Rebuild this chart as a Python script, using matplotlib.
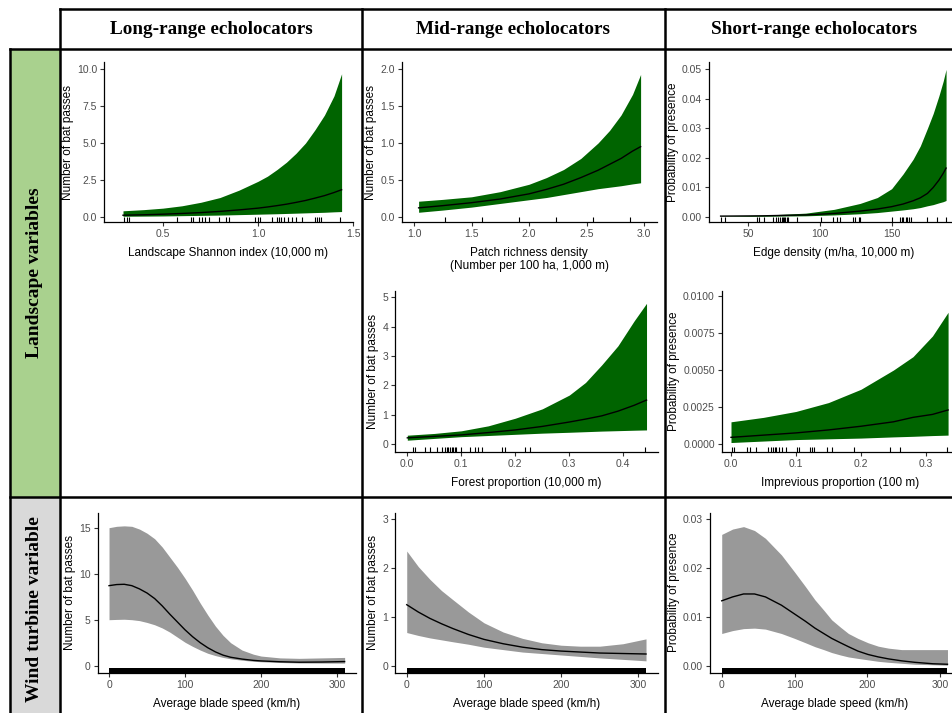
import matplotlib.pyplot as plt
from matplotlib.patches import Rectangle
from matplotlib.transforms import blended_transform_factory

# ---- data ----

# long-range, landscape Shannon index
shan_x = [0.29, 0.4, 0.5, 0.6, 0.7, 0.8, 0.9, 1.0, 1.05, 1.1, 1.15, 1.2, 1.25, 1.3, 1.35, 1.4, 1.44]
shan_fit = [0.10, 0.13, 0.17, 0.22, 0.28, 0.36, 0.46, 0.58, 0.66, 0.75, 0.85, 0.97, 1.1, 1.26, 1.43, 1.64, 1.83]
shan_hi = [0.40, 0.48, 0.58, 0.74, 0.98, 1.3, 1.8, 2.4, 2.75, 3.2, 3.7, 4.3, 5.0, 5.9, 6.9, 8.2, 9.7]
shan_lo = [0.03, 0.04, 0.05, 0.07, 0.09, 0.11, 0.14, 0.17, 0.185, 0.20, 0.22, 0.24, 0.26, 0.28, 0.30, 0.33, 0.35]
shan_rug = [0.295, 0.309, 0.32, 0.572, 0.646, 0.66, 0.689, 0.707, 0.72, 0.74, 0.795, 0.83, 0.85,
            0.984, 0.998, 1.01, 1.072, 1.10, 1.11, 1.12, 1.137, 1.16, 1.18, 1.20, 1.23,
            1.30, 1.31, 1.32, 1.33, 1.43]

# mid-range, patch richness density
patch_x = [1.04, 1.25, 1.5, 1.75, 2.0, 2.15, 2.3, 2.45, 2.6, 2.7, 2.8, 2.9, 2.97]
patch_fit = [0.12, 0.15, 0.19, 0.24, 0.31, 0.37, 0.44, 0.53, 0.63, 0.71, 0.79, 0.89, 0.95]
patch_hi = [0.21, 0.235, 0.27, 0.34, 0.44, 0.53, 0.64, 0.79, 1.0, 1.17, 1.38, 1.66, 1.93]
patch_lo = [0.06, 0.09, 0.13, 0.18, 0.23, 0.26, 0.30, 0.34, 0.38, 0.40, 0.42, 0.445, 0.46]
patch_rug = [1.27, 1.594, 1.913, 2.235, 2.557, 2.878]

# short-range, edge density
edge_x = [30.7, 60, 90, 110, 128, 140, 150, 158, 165, 170, 175, 179, 183, 186, 188]
edge_fit = [0.0002, 0.0003, 0.0006, 0.0011, 0.0019, 0.0026, 0.0034, 0.0043, 0.0054, 0.0064, 0.0079,
            0.0099, 0.0124, 0.0147, 0.0165]
edge_hi = [0.0002, 0.0005, 0.0012, 0.0025, 0.0045, 0.0065, 0.0095, 0.0145, 0.0195, 0.0240, 0.0300,
           0.0350, 0.0410, 0.0460, 0.0500]
edge_lo = [0.0001, 0.00015, 0.0003, 0.0006, 0.001, 0.0014, 0.0019, 0.0023, 0.0027, 0.0031, 0.0037,
           0.0041, 0.0047, 0.0051, 0.0055]
edge_rug = [30.9, 33.7, 55.8, 57.7, 61, 67.5, 69.2, 70.8, 72, 73.3, 74, 74.7, 75.6, 76.8, 78, 83.8,
            100.8, 109.3, 112, 114, 123.3, 124.5, 127, 128, 150, 155.8, 157, 158, 160, 161,
            162.4, 163.6, 174.5, 181.5, 188]

# mid-range, forest proportion
forest_x = [0.0, 0.05, 0.1, 0.15, 0.2, 0.25, 0.3, 0.33, 0.36, 0.39, 0.42, 0.443]
forest_fit = [0.21, 0.26, 0.31, 0.39, 0.48, 0.6, 0.75, 0.85, 0.96, 1.12, 1.32, 1.5]
forest_hi = [0.30, 0.36, 0.45, 0.62, 0.88, 1.2, 1.67, 2.1, 2.7, 3.35, 4.2, 4.8]
forest_lo = [0.13, 0.19, 0.25, 0.29, 0.33, 0.37, 0.40, 0.42, 0.44, 0.455, 0.47, 0.48]
forest_rug = [0.011, 0.014, 0.033, 0.042, 0.055, 0.064, 0.069, 0.073, 0.076, 0.079, 0.082, 0.085,
              0.088, 0.091, 0.1, 0.116, 0.125, 0.131, 0.138, 0.175, 0.18, 0.218, 0.227, 0.44]

# short-range, impervious proportion
imp_x = [0.0, 0.05, 0.1, 0.15, 0.2, 0.25, 0.28, 0.31, 0.334]
imp_fit = [0.00045, 0.0006, 0.00075, 0.00095, 0.0012, 0.0015, 0.0018, 0.002, 0.0023]
imp_hi = [0.0015, 0.0018, 0.0022, 0.0028, 0.0037, 0.005, 0.0059, 0.0073, 0.0089]
imp_lo = [0.0001, 0.0002, 0.0003, 0.00035, 0.0004, 0.00048, 0.00052, 0.00057, 0.0006]
imp_rug = [0.002, 0.0046, 0.025, 0.030, 0.039, 0.057, 0.061, 0.065, 0.067, 0.07, 0.074, 0.078,
           0.085, 0.101, 0.105, 0.122, 0.124, 0.127, 0.147, 0.155, 0.19, 0.245, 0.26, 0.332]

# blade speed, three guilds
lr_speed_x = [0, 10, 20, 30, 40, 50, 60, 70, 80, 90, 100, 110, 120, 130, 140, 150, 160, 175, 190,
              200, 225, 250, 280, 310]
lr_speed_fit = [8.7, 8.82, 8.85, 8.7, 8.35, 7.9, 7.3, 6.5, 5.6, 4.75, 3.9, 3.15, 2.5, 1.95, 1.5,
                1.15, 0.92, 0.72, 0.58, 0.52, 0.43, 0.38, 0.4, 0.45]
lr_speed_hi = [15.0, 15.15, 15.2, 15.15, 14.85, 14.4, 13.8, 12.9, 11.8, 10.7, 9.5, 8.2, 6.8, 5.5,
               4.3, 3.3, 2.5, 1.7, 1.25, 1.05, 0.85, 0.8, 0.85, 0.9]
lr_speed_lo = [5.0, 5.03, 5.05, 5.0, 4.9, 4.7, 4.45, 4.1, 3.65, 3.1, 2.55, 2.1, 1.7, 1.35, 1.1, 0.9,
               0.75, 0.6, 0.48, 0.43, 0.35, 0.3, 0.29, 0.28]

mr_speed_x = [0, 15, 30, 45, 60, 80, 100, 125, 150, 175, 200, 225, 250, 280, 310]
mr_speed_fit = [1.25, 1.1, 0.97, 0.86, 0.76, 0.64, 0.54, 0.45, 0.38, 0.33, 0.3, 0.28, 0.26, 0.25, 0.24]
mr_speed_hi = [2.35, 2.03, 1.77, 1.54, 1.35, 1.1, 0.88, 0.69, 0.56, 0.47, 0.42, 0.4, 0.4, 0.45, 0.55]
mr_speed_lo = [0.68, 0.62, 0.57, 0.53, 0.49, 0.44, 0.38, 0.33, 0.28, 0.25, 0.22, 0.19, 0.16, 0.13, 0.10]

sr_speed_x = [0, 15, 30, 45, 60, 82, 100, 115, 128, 140, 151, 163, 174, 187, 201, 215, 229, 247,
              265, 290, 310]
sr_speed_fit = [0.0133, 0.0141, 0.0147, 0.0147, 0.0141, 0.0124, 0.0106, 0.0091, 0.0077, 0.0066,
                0.0056, 0.0047, 0.0039, 0.003, 0.0023, 0.0018, 0.0014, 0.001, 0.0007, 0.0004, 0.0003]
sr_speed_hi = [0.0269, 0.028, 0.0285, 0.0277, 0.0261, 0.0227, 0.0192, 0.0162, 0.0135, 0.0114,
               0.0094, 0.0079, 0.0066, 0.0056, 0.0047, 0.004, 0.0036, 0.0033, 0.0033, 0.0033, 0.0033]
sr_speed_lo = [0.0066, 0.0072, 0.0076, 0.0077, 0.0075, 0.0066, 0.0056, 0.0047, 0.0039, 0.0033,
               0.0027, 0.0022, 0.0018, 0.0015, 0.0012, 0.0009, 0.0007, 0.0005, 0.0003, 0.0002, 0.0001]

speed_rug_span = [0, 310]

col_titles = ["Long-range echolocators", "Mid-range echolocators", "Short-range echolocators"]
row_titles = ["Landscape variables", "Wind turbine variable"]

# ---- figure ----
W, H = 952, 713
fig = plt.figure(figsize=(W / 100, H / 100), dpi=100)
plt.rcParams['font.family'] = ['Liberation Sans', 'DejaVu Sans']

bg = fig.add_axes([0, 0, 1, 1])
bg.set_xlim(0, W)
bg.set_ylim(H, 0)
bg.axis('off')
bg.add_patch(Rectangle((9.5, 49), 50.5, 448, fc='#a9d18e', ec='none'))
bg.add_patch(Rectangle((9.5, 497), 50.5, 216, fc='#d9d9d9', ec='none'))
lw = 1.8
bg.plot([60, W], [8.5, 8.5], color='black', lw=lw)
bg.plot([9.5, W], [49, 49], color='black', lw=lw)
bg.plot([9.5, W], [497, 497], color='black', lw=lw)
for xv in [60, 362, 665]:
    bg.plot([xv, xv], [8.5, H], color='black', lw=lw)
bg.plot([9.5, 9.5], [49, H], color='black', lw=lw)

serif = ['Liberation Serif', 'DejaVu Serif']
for cx, t in zip([211, 513.5, 814], col_titles):
    bg.text(cx, 29, t, ha='center', va='center', family=serif, weight='bold', size=13.8)
for cy, t in zip([273, 609], row_titles):
    bg.text(35, cy, t, ha='center', va='center', rotation=90, family=serif, weight='bold', size=14)


def panel(box, xlim, ylim, x, fit, lo, hi, col, xticks, xtl, yticks, ytl, xlab, ylab,
          rug=None, span=None):
    l, t, r, b = box
    ax = fig.add_axes([l / W, 1 - b / H, (r - l) / W, (b - t) / H])
    ax.patch.set_alpha(0)
    ax.fill_between(x, lo, hi, color=col, lw=0)
    ax.plot(x, fit, color='black', lw=1.0)
    tr = blended_transform_factory(ax.transData, ax.transAxes)
    if rug is not None:
        ax.vlines(rug, 0, 0.03, transform=tr, color='black', lw=0.8)
    if span is not None:
        ax.fill_between(span, 0, 0.03, transform=tr, color='black', lw=0)
    ax.set_xlim(xlim)
    ax.set_ylim(ylim)
    for s in ['top', 'right']:
        ax.spines[s].set_visible(False)
    for s in ['left', 'bottom']:
        ax.spines[s].set_linewidth(0.9)
    ax.set_xticks(xticks)
    ax.set_xticklabels(xtl)
    ax.set_yticks(yticks)
    ax.set_yticklabels(ytl)
    ax.tick_params(length=3, width=0.8, color='#333333', labelcolor='#4d4d4d', labelsize=7.5, pad=2)
    ax.set_xlabel(xlab, size=8.5, labelpad=6, linespacing=1.1)
    ax.set_ylabel(ylab, size=8.5, labelpad=2)
    return ax


green = '#006400'
grey = '#999999'
nb = 'Number of bat passes'
pp = 'Probability of presence'

panel((104, 62, 353, 222), (0.19, 1.50), (-0.36, 10.5), shan_x, shan_fit, shan_lo, shan_hi, green,
      [0.5, 1.0, 1.5], ['0.5', '1.0', '1.5'], [0, 2.5, 5, 7.5, 10],
      ['0.0', '2.5', '5.0', '7.5', '10.0'], 'Landscape Shannon index (10,000 m)', nb, rug=shan_rug)

panel((401.7, 62, 656.7, 222), (0.893, 3.11), (-0.072, 2.099), patch_x, patch_fit, patch_lo, patch_hi,
      green, [1.0, 1.5, 2.0, 2.5, 3.0], ['1.0', '1.5', '2.0', '2.5', '3.0'], [0, 0.5, 1, 1.5, 2],
      ['0.0', '0.5', '1.0', '1.5', '2.0'],
      'Patch richness density\n(Number per 100 ha, 1,000 m)', nb, rug=patch_rug)

panel((709, 62, 957.4, 222), (22.6, 195.9), (-0.0018, 0.0525), edge_x, edge_fit, edge_lo, edge_hi,
      green, [50, 100, 150], ['50', '100', '150'], [0, 0.01, 0.02, 0.03, 0.04, 0.05],
      ['0.00', '0.01', '0.02', '0.03', '0.04', '0.05'], 'Edge density (m/ha, 10,000 m)', pp,
      rug=edge_rug)

panel((395, 290.7, 658.3, 451.7), (-0.0228, 0.4648), (-0.263, 5.232), forest_x, forest_fit, forest_lo,
      forest_hi, green, [0, 0.1, 0.2, 0.3, 0.4], ['0.0', '0.1', '0.2', '0.3', '0.4'],
      [0, 1, 2, 3, 4, 5], ['0', '1', '2', '3', '4', '5'], 'Forest proportion (10,000 m)', nb,
      rug=forest_rug)

panel((721.7, 290.7, 959, 451.7), (-0.0143, 0.3508), (-0.00052, 0.01036), imp_x, imp_fit, imp_lo, imp_hi,
      green, [0, 0.1, 0.2, 0.3], ['0.0', '0.1', '0.2', '0.3'], [0, 0.0025, 0.005, 0.0075, 0.01],
      ['0.0000', '0.0025', '0.0050', '0.0075', '0.0100'], 'Imprevious proportion (100 m)', pp,
      rug=imp_rug)

speed_ticks = [0, 100, 200, 300]
speed_tl = ['0', '100', '200', '300']
sp = 'Average blade speed (km/h)'

panel((97.7, 512.7, 356.4, 672.7), (-14.9, 325.5), (-0.76, 16.63), lr_speed_x, lr_speed_fit,
      lr_speed_lo, lr_speed_hi, grey, speed_ticks, speed_tl, [0, 5, 10, 15], ['0', '5', '10', '15'],
      sp, nb, span=speed_rug_span)

panel((395, 512.7, 657.6, 672.7), (-15.2, 325), (-0.143, 3.135), mr_speed_x, mr_speed_fit,
      mr_speed_lo, mr_speed_hi, grey, speed_ticks, speed_tl, [0, 1, 2, 3], ['0', '1', '2', '3'],
      sp, nb, span=speed_rug_span)

panel((710, 512.7, 958.4, 672.7), (-16.1, 325), (-0.00143, 0.03135), sr_speed_x, sr_speed_fit,
      sr_speed_lo, sr_speed_hi, grey, speed_ticks, speed_tl, [0, 0.01, 0.02, 0.03],
      ['0.00', '0.01', '0.02', '0.03'], sp, pp, span=speed_rug_span)

fig.savefig('out.png', dpi=100)
